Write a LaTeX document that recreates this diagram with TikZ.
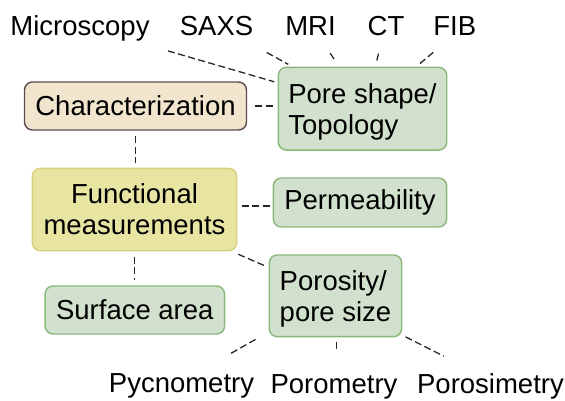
\documentclass[tikz,border=0pt]{standalone}
\usepackage{fontspec}
\setmainfont{Liberation Sans}
\usetikzlibrary{calc}

\definecolor{charfill}{HTML}{F2E5CD}
\definecolor{charline}{HTML}{5D4B4B}
\definecolor{funcfill}{HTML}{E8E4A2}
\definecolor{funcline}{HTML}{D8CF80}
\definecolor{gfill}{HTML}{D2E1CD}
\definecolor{gline}{HTML}{8AB87A}
\definecolor{linkclr}{HTML}{262626}

\tikzset{
  txt/.style={font=\fontsize{27.5}{31}\selectfont},
  box/.style={txt, draw, line width=1.4pt, rounded corners=8pt,
    inner sep=4pt, outer sep=0pt},
  greenbox/.style={box, fill=gfill, draw=gline},
  lbl/.style={txt, inner sep=0pt, outer sep=0pt, anchor=base},
  conn/.style={draw=linkclr, line width=1.3pt, dash pattern=on 7pt off 3.5pt}
}

\begin{document}
\begin{tikzpicture}[x=1pt, y=-1pt]
\useasboundingbox (0,0) rectangle (565,400);

% boxes
\node[box, fill=charfill, draw=charline, minimum width=222pt, minimum height=48pt]
  (char) at (135.5,106) {Characterization};
\node[greenbox, align=left, text depth=0pt, minimum width=168.4pt, minimum height=82.7pt]
  (pore) at (362.5,108.7) {Pore shape/\\Topology};
\node[box, fill=funcfill, draw=funcline, align=center, minimum width=204.4pt, minimum height=82.4pt]
  (func) at (134.5,209.5) {Functional\\measurements};
\node[greenbox, minimum width=173.3pt, minimum height=49pt]
  (perm) at (360,202.5) {Permeability};
\node[greenbox, align=left, text depth=0pt, minimum width=132.4pt, minimum height=81.7pt]
  (poro) at (335.5,295.8) {Porosity/\\pore size};
\node[greenbox, minimum width=179.5pt, minimum height=48pt]
  (surf) at (134.8,310) {Surface area};

% method labels
\node[lbl] (micro) at (80,35) {Microscopy};
\node[lbl] (saxs) at (216.5,35) {SAXS};
\node[lbl] (mri) at (310.5,35) {MRI};
\node[lbl] (ct) at (386,35) {CT};
\node[lbl] (fib) at (454.7,35) {FIB};
\node[lbl] (pycno) at (181.5,392) {Pycnometry};
\node[lbl] (porom) at (334,393) {Porometry};
\node[lbl] (porosim) at (490.5,393.5) {Porosimetry};

% imaging methods to pore shape
\draw[conn, shorten <=36.6pt, shorten >=4.1pt] ([xshift=52.8pt]micro.south) -- (pore.163);
\draw[conn, shorten <=35.6pt, shorten >=6.2pt] ([xshift=19.1pt]saxs.south) -- (pore.149);
\draw[conn, shorten <=21.8pt, shorten >=7.5pt] ([xshift=7.6pt]mri.south) -- (pore.119.5);
\draw[conn, shorten <=18.9pt, shorten >=5.2pt] ([xshift=-3pt]ct.south) -- (pore.73.6);
\draw[conn, shorten <=26.9pt, shorten >=4.7pt] ([xshift=-0.8pt]fib.south) -- (pore.38);

% hierarchy
\draw[conn, shorten <=8.6pt, shorten >=4.7pt] (char.east) -- (char.east -| pore.west);
\draw[conn, shorten <=6pt, shorten >=5.3pt] (char.south) -- (char.south |- func.north);
\draw[conn, shorten <=5.2pt, shorten >=3.3pt] ([yshift=3.5pt]func.east) -- ([yshift=3.5pt]func.east -| perm.west);
\draw[conn, shorten <=9pt, shorten >=4.3pt] ([xshift=-6.7pt]func.south east) -- (poro.157);
\draw[conn, shorten <=6pt, shorten >=6pt] (func.south) -- (func.south |- surf.north);

% porosity methods
\draw[conn, shorten <=5.6pt, shorten >=39.8pt] ([xshift=-8.9pt]poro.south west) -- ([xshift=14.7pt]pycno.north);
\draw[conn, shorten <=5pt, shorten >=25pt] ([xshift=1pt]poro.south) -- ([xshift=1pt]poro.south |- porom.north);
\draw[conn, shorten <=0.5pt, shorten >=38.5pt] ([xshift=3.5pt]poro.south east) -- ([xshift=-12.3pt]porosim.north);
\end{tikzpicture}
\end{document}
